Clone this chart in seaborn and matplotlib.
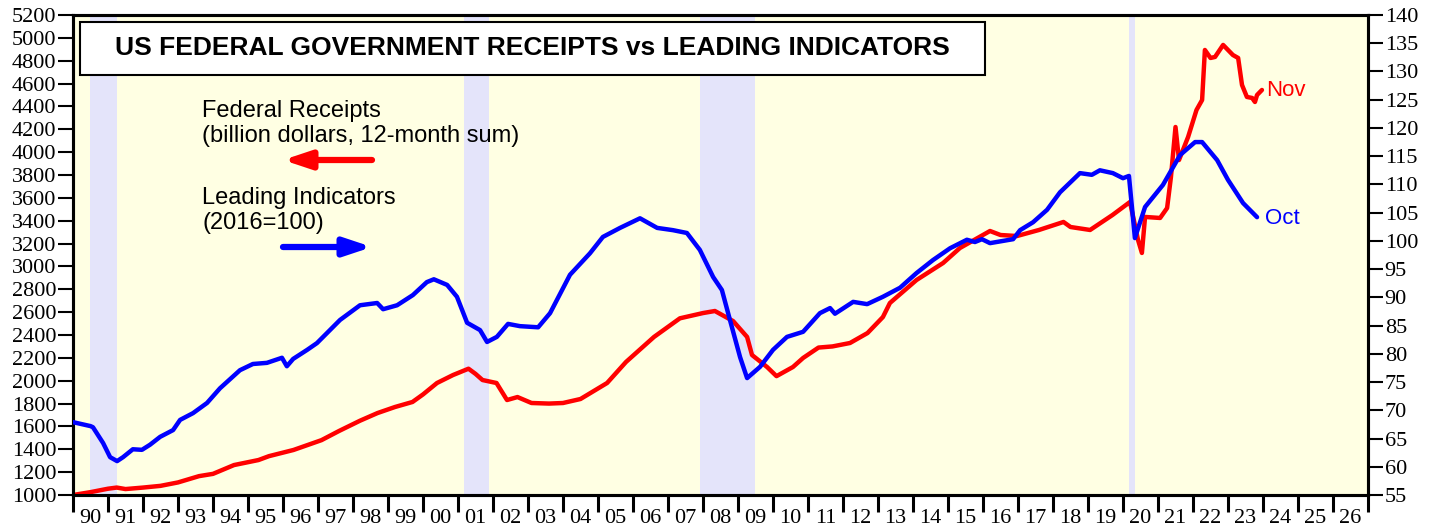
import matplotlib
matplotlib.use("Agg")
import matplotlib.pyplot as plt
import matplotlib.patches as mpatches
import seaborn as sns

# Federal receipts, billion dollars, 12-month sum (left axis)
receipt_years = [
    1990.0, 1990.5, 1991.0, 1991.25, 1991.5, 1992.0, 1992.5, 1993.0, 1993.6, 1994.0,
    1994.6, 1995.3, 1995.6, 1996.3, 1997.1, 1997.6, 1998.2, 1998.7, 1999.2, 1999.7,
    2000.0, 2000.4, 2000.86, 2001.3, 2001.5, 2001.7, 2002.1, 2002.4, 2002.7, 2003.1,
    2003.6, 2004.0, 2004.5, 2005.26, 2005.8, 2006.6, 2007.34, 2008.0, 2008.34, 2008.86,
    2009.26, 2009.4, 2009.83, 2010.1, 2010.57, 2010.86, 2011.3, 2011.7, 2012.2, 2012.7,
    2013.14, 2013.34, 2014.1, 2014.86, 2015.34, 2015.9, 2016.2, 2016.5, 2016.97, 2017.6,
    2018.3, 2018.5, 2019.06, 2019.7, 2020.2, 2020.43, 2020.54, 2020.63, 2021.06, 2021.26,
    2021.37, 2021.5, 2021.6, 2021.86, 2022.1, 2022.26, 2022.34, 2022.5, 2022.63, 2022.86,
    2023.14, 2023.29, 2023.4, 2023.54, 2023.69, 2023.77, 2023.83, 2023.97,
]
receipt_values = [
    1000, 1025, 1055, 1065, 1052, 1065, 1080, 1110, 1165, 1185,
    1262, 1306, 1340, 1394, 1480, 1560, 1650, 1717, 1770, 1814,
    1880, 1980, 2050, 2105, 2060, 2006, 1980, 1831, 1857, 1805,
    1800, 1805, 1840, 1980, 2164, 2383, 2546, 2592, 2610, 2522,
    2383, 2225, 2120, 2040, 2120, 2199, 2290, 2300, 2330, 2417,
    2557, 2680, 2881, 3030, 3161, 3258, 3310, 3275, 3266, 3319,
    3389, 3345, 3319, 3450, 3564, 3231, 3118, 3433, 3424, 3511,
    3783, 4220, 3931, 4133, 4369, 4456, 4894, 4824, 4833, 4938,
    4850, 4824, 4588, 4483, 4474, 4439, 4500, 4544,
]

# Leading indicators, 2016=100 (right axis)
lei_years = [
    1990.0, 1990.5, 1990.57, 1990.86, 1991.06, 1991.26, 1991.43, 1991.71, 1991.97, 1992.2,
    1992.49, 1992.86, 1993.06, 1993.43, 1993.83, 1994.2, 1994.77, 1995.14, 1995.54, 1995.97,
    1996.11, 1996.29, 1996.69, 1996.97, 1997.26, 1997.63, 1998.2, 1998.69, 1998.86, 1999.26,
    1999.71, 2000.11, 2000.31, 2000.69, 2000.97, 2001.26, 2001.63, 2001.83, 2002.11, 2002.43,
    2002.77, 2003.29, 2003.63, 2004.2, 2004.77, 2005.14, 2005.63, 2006.2, 2006.69, 2007.14,
    2007.54, 2007.91, 2008.29, 2008.54, 2008.77, 2009.06, 2009.26, 2009.63, 2010.0, 2010.4,
    2010.86, 2011.34, 2011.63, 2011.77, 2012.29, 2012.69, 2013.14, 2013.63, 2014.1, 2014.57,
    2015.06, 2015.54, 2015.77, 2015.97, 2016.2, 2016.86, 2017.06, 2017.43, 2017.83, 2018.2,
    2018.77, 2019.11, 2019.34, 2019.71, 2020.0, 2020.17, 2020.34, 2020.63, 2021.14, 2021.63,
    2022.06, 2022.26, 2022.69, 2023.0, 2023.43, 2023.83,
]
lei_values = [
    67.9, 67.2, 67.0, 64.2, 61.7, 61.0, 61.7, 63.1, 63.0, 63.9,
    65.3, 66.5, 68.3, 69.5, 71.3, 73.9, 77.1, 78.2, 78.4, 79.3,
    77.8, 79.1, 80.7, 81.9, 83.7, 86.0, 88.6, 89.0, 87.9, 88.6,
    90.4, 92.7, 93.2, 92.2, 90.1, 85.5, 84.2, 82.1, 83.0, 85.3,
    84.9, 84.7, 87.2, 94.0, 97.8, 100.7, 102.3, 104.0, 102.3, 101.9,
    101.4, 98.4, 93.6, 91.3, 86.0, 79.4, 75.7, 77.7, 80.7, 83.0,
    83.9, 87.2, 88.1, 87.1, 89.2, 88.8, 90.1, 91.7, 94.3, 96.6,
    98.7, 100.2, 99.8, 100.3, 99.6, 100.3, 101.9, 103.3, 105.5, 108.6,
    112.0, 111.7, 112.5, 112.0, 111.1, 111.5, 100.5, 106.0, 109.9, 115.2,
    117.5, 117.5, 114.3, 110.8, 106.7, 104.2,
]

recessions = [(1990.5, 1991.25), (2001.17, 2001.9), (2007.92, 2009.48), (2020.17, 2020.34)]
year_labels = [f"{y % 100:02d}" for y in range(1990, 2027)]

sns.set_style("ticks")
plt.rcParams["font.family"] = ["Liberation Serif", "DejaVu Serif"]
for key in ("text.color", "xtick.color", "ytick.color", "axes.labelcolor"):
    plt.rcParams[key] = "black"

fig = plt.figure(figsize=(14.39, 5.29), dpi=100)
ax = fig.add_axes([73 / 1439, 34 / 529, 1295 / 1439, 480 / 529])
ax.set_facecolor("#ffffe3")
ax2 = ax.twinx()

for start, end in recessions:
    ax.axvspan(start, end, color="#e4e4fa", lw=0, zorder=0)

sns.lineplot(x=receipt_years, y=receipt_values, ax=ax, color="#ff0000",
             linewidth=3.2, estimator=None, zorder=3)
sns.lineplot(x=lei_years, y=lei_values, ax=ax2, color="#0000ff",
             linewidth=3.2, estimator=None, zorder=3)

ax.set_xlim(1990, 2027)
ax.set_ylim(1000, 5200)
ax2.set_ylim(55, 140)
ax.set_yticks(range(1000, 5201, 200))
ax2.set_yticks(range(55, 141, 5))
ax.set_xticks(range(1990, 2028))
ax.set_xticklabels([])
ax.set_xticks([y + 0.5 for y in range(1990, 2027)], minor=True)
ax.set_xticklabels(year_labels, minor=True)
ax.set_xlabel("")
ax.set_ylabel("")
ax2.set_ylabel("")

ax.tick_params(axis="x", which="major", length=12, width=2.2, direction="out")
ax.tick_params(axis="x", which="minor", length=0, pad=10, labelsize=16)
ax.tick_params(axis="y", which="major", length=11, width=1.5, direction="out",
               labelsize=16, pad=1)
ax2.tick_params(axis="y", which="major", length=11, width=1.5, direction="out",
                labelsize=16, pad=1)
for a in (ax, ax2):
    for side in ("left", "right", "top", "bottom"):
        a.spines[side].set_visible(True)
        a.spines[side].set_linewidth(2.2)
        a.spines[side].set_color("black")


def ax_frac(px, py):
    return (px - 73) / 1295, (495 - py) / 480


# title box
x0, y0 = ax_frac(80, 75)
x1, y1 = ax_frac(985, 22)
ax.add_patch(mpatches.Rectangle((x0, y0), x1 - x0, y1 - y0, transform=ax.transAxes,
                                facecolor="white", edgecolor="black", lw=1.5, zorder=5))
tx, ty = ax_frac(532, 48)
ax.text(tx, ty, "US FEDERAL GOVERNMENT RECEIPTS vs LEADING INDICATORS",
        transform=ax.transAxes, ha="center", va="center", fontsize=19,
        fontweight="bold", family="Liberation Sans", zorder=6)

sans = dict(family="Liberation Sans", fontsize=17, transform=ax.transAxes,
            va="top", ha="left", linespacing=1.15, zorder=6)
ax.text(*ax_frac(202, 100), "Federal Receipts\n(billion dollars, 12-month sum)", **sans)
ax.text(*ax_frac(202, 187), "Leading Indicators\n(2016=100)", **sans)

ax.annotate("", xy=ax_frac(283, 160), xytext=ax_frac(372, 160),
            xycoords="axes fraction", textcoords="axes fraction",
            arrowprops=dict(arrowstyle="-|>,head_length=0.9,head_width=0.3",
                            color="#ff0000", lw=4.5, mutation_scale=18,
                            shrinkA=0, shrinkB=0), zorder=6)
ax.annotate("", xy=ax_frac(372, 247), xytext=ax_frac(283, 247),
            xycoords="axes fraction", textcoords="axes fraction",
            arrowprops=dict(arrowstyle="-|>,head_length=0.9,head_width=0.3",
                            color="#0000ff", lw=4.5, mutation_scale=18,
                            shrinkA=0, shrinkB=0), zorder=6)

ax.text(2024.1, 4540, "Nov", color="#ff0000", family="Liberation Sans",
        fontsize=16, va="center", ha="left")
ax2.text(2024.05, 104.0, "Oct", color="#0000ff", family="Liberation Sans",
         fontsize=16, va="center", ha="left")

fig.savefig("out.png", dpi=100)
